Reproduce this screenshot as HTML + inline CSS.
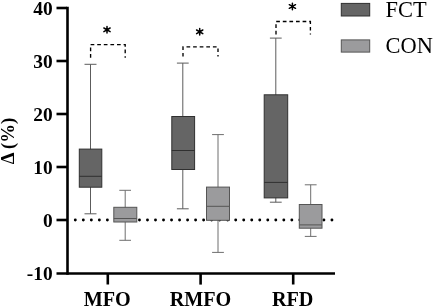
<!DOCTYPE html>
<html>
<head>
<meta charset="utf-8">
<style>
html,body{margin:0;padding:0;background:#fff;}
body{width:434px;height:308px;overflow:hidden;}
svg{display:block;will-change:transform;}
text{font-family:"Liberation Serif",serif;fill:#000;}
.b{font-weight:bold;font-size:20.2px;}
.l{font-size:22.4px;}
.ax{stroke:#000;stroke-width:2.6;fill:none;}
.w{stroke:#5c5c5c;stroke-width:1;fill:none;}
.w2{stroke:#6e6e6e;}
.f{fill:#656565;stroke:#303030;stroke-width:1;}
.c{fill:#9b9b9d;stroke:#555;stroke-width:1;}
.mf{stroke:#303030;stroke-width:1;}
.mc{stroke:#555;stroke-width:1;}
.d{stroke:#000;stroke-width:1.35;fill:none;stroke-dasharray:3.7 2.9;}
</style>
</head>
<body>
<svg width="434" height="308" viewBox="0 0 434 308">
<rect width="434" height="308" fill="#fff"/>
<!-- dotted zero line -->
<line x1="75.3" y1="220" x2="332.5" y2="220" stroke="#000" stroke-width="2.9" stroke-linecap="round" stroke-dasharray="0 8.02"/>
<!-- axes -->
<line class="ax" x1="67.5" y1="6.7" x2="67.5" y2="274.8"/>
<line class="ax" x1="56.5" y1="273.5" x2="335" y2="273.5"/>
<g class="ax">
<line x1="56.5" y1="8" x2="67" y2="8"/>
<line x1="56.5" y1="61" x2="67" y2="61"/>
<line x1="56.5" y1="114" x2="67" y2="114"/>
<line x1="56.5" y1="167" x2="67" y2="167"/>
<line x1="56.5" y1="220" x2="67" y2="220"/>
<line x1="107.8" y1="274" x2="107.8" y2="284.5"/>
<line x1="200.6" y1="274" x2="200.6" y2="284.6"/>
<line x1="293.2" y1="274" x2="293.2" y2="284.5"/>
</g>
<!-- y labels -->
<g class="b" text-anchor="end" style="font-size:19.4px">
<text x="52.7" y="14.7">40</text>
<text x="52.7" y="67.7">30</text>
<text x="52.7" y="120.7">20</text>
<text x="52.7" y="173.7">10</text>
<text x="52.7" y="226.7">0</text>
<text x="52.7" y="279.7">-10</text>
</g>
<g class="b" text-anchor="middle">
<text x="107.2" y="305.9">MFO</text>
<text x="200.5" y="305.9">RMFO</text>
<text x="292.7" y="305.9">RFD</text>
</g>
<text class="b" style="font-size:18.7px" text-anchor="middle" transform="translate(14.3,141) rotate(-90)">Δ (%)</text>

<!-- MFO FCT -->
<g class="w">
<path d="M90.5 64.3V213.8M84.5 64.3H96.5M84.5 213.8H96.5"/>
<path class="w2" d="M125.2 190.3V240.3M119.3 190.3H131M119.3 240.3H131"/>
<path d="M182.8 63.1V208.8M176.9 63.1H188.7M176.9 208.8H188.7"/>
<path class="w2" d="M218 134.6V252.4M212.1 134.6H223.9M212.1 252.4H223.9"/>
<path d="M275.8 38.1V202.2M269.9 38.1H281.7M269.9 202.2H281.7"/>
<path class="w2" d="M310.7 184.8V236.4M304.8 184.8H316.6M304.8 236.4H316.6"/>
</g>
<rect class="f" x="79.3" y="149.1" width="22.5" height="38.1"/>
<line class="mf" x1="79.3" y1="176.3" x2="101.8" y2="176.3"/>
<rect class="c" x="113.8" y="207.3" width="23" height="14.7"/>
<line class="mc" x1="113.8" y1="218.5" x2="136.8" y2="218.5"/>
<rect class="f" x="171.8" y="116.5" width="22.8" height="53"/>
<line class="mf" x1="171.8" y1="150.5" x2="194.6" y2="150.5"/>
<rect class="c" x="206.5" y="187.1" width="23" height="33.2"/>
<line class="mc" x1="206.5" y1="206.3" x2="229.5" y2="206.3"/>
<rect class="f" x="264.2" y="94.8" width="23.5" height="103.1"/>
<line class="mf" x1="264.2" y1="182.4" x2="287.7" y2="182.4"/>
<rect class="c" x="299.3" y="204.5" width="22.7" height="23.7"/>
<line class="mc" x1="299.3" y1="224.9" x2="322" y2="224.9"/>

<!-- brackets -->
<path class="d" d="M90.6 57.8V44.6H125.2V57.8"/>
<path class="d" d="M183 56.6V46.9H218V56.6"/>
<path class="d" d="M276 34.5V21.5H310.4V34.5"/>
<defs><g id="ast"><path d="M0 -3.3V3.3M-3.1 -1.8L3.1 1.8M-3.1 1.8L3.1 -1.8" stroke="#000" stroke-width="1.5" stroke-linecap="round" fill="none"/><circle r="1.4" fill="#000"/></g></defs>
<use href="#ast" x="107" y="29.8"/>
<use href="#ast" x="199.7" y="31.8"/>
<use href="#ast" x="292.4" y="6.5"/>

<!-- legend -->
<rect class="f" x="341.3" y="3.4" width="28.4" height="12.6"/>
<rect class="c" x="341.3" y="39.9" width="28.4" height="12.2"/>
<text class="l" x="385.6" y="17.2">FCT</text>
<text class="l" x="385.6" y="53.3">CON</text>
</svg>
</body>
</html>
